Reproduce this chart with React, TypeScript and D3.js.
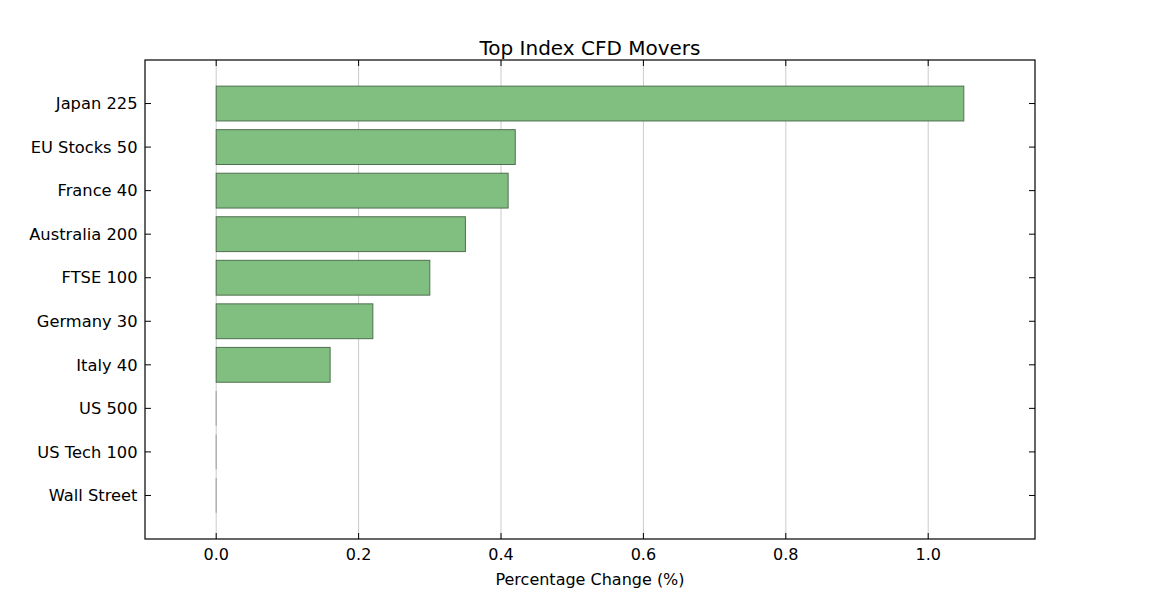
import React from "react";
import * as d3 from "d3";

const categories = ["Japan 225", "EU Stocks 50", "France 40", "Australia 200", "FTSE 100", "Germany 30", "Italy 40", "US 500", "US Tech 100", "Wall Street"];
const values = [1.05, 0.42, 0.41, 0.35, 0.30, 0.22, 0.16, 0, 0, 0];
const xTicks = [0.0, 0.2, 0.4, 0.6, 0.8, 1.0];

export default function App() {
  const W = 1150, H = 600;
  const left = 145, right = 1035, top = 60, bottom = 539;
  const x = d3.scaleLinear().domain([-0.1, 1.15]).range([left, right]);
  const y = d3.scaleLinear().domain([-1, categories.length]).range([top, bottom]);
  const barH = Math.abs(y(0.8) - y(0));
  const font = "DejaVu Sans, sans-serif";
  const tickLen = 6;
  return (
    <svg width={W} height={H} style={{ position: "absolute", left: 0, top: 0 }} fontFamily={font}>
      <rect x={0} y={0} width={W} height={H} fill="#fff" />
      {xTicks.map((t) => (
        <line key={"g" + t} x1={x(t)} x2={x(t)} y1={top} y2={bottom} stroke="#cbcbcb" strokeWidth={1} />
      ))}
      {categories.map((c, i) => {
        const v = values[i];
        const yc = y(i);
        if (v === 0) {
          return (
            <line key={c} x1={x(0)} x2={x(0)} y1={yc - barH / 2} y2={yc + barH / 2} stroke="#a8a8a8" strokeWidth={1.2} />
          );
        }
        return (
          <rect key={c} x={x(0)} y={yc - barH / 2} width={x(v) - x(0)} height={barH}
            fill="#80bf80" stroke="#4f6e4f" strokeWidth={1} />
        );
      })}
      <rect x={left} y={top} width={right - left} height={bottom - top} fill="none" stroke="#000" strokeWidth={1.2} />
      {xTicks.map((t) => (
        <g key={"t" + t}>
          <line x1={x(t)} x2={x(t)} y1={bottom} y2={bottom - tickLen} stroke="#000" />
          <line x1={x(t)} x2={x(t)} y1={top} y2={top + tickLen} stroke="#000" />
          <text x={x(t)} y={bottom + 21} textAnchor="middle" fontSize={16} fill="#000">{t.toFixed(1)}</text>
        </g>
      ))}
      {categories.map((c, i) => (
        <g key={"y" + c}>
          <line x1={left} x2={left + tickLen} y1={y(i)} y2={y(i)} stroke="#000" />
          <line x1={right} x2={right - tickLen} y1={y(i)} y2={y(i)} stroke="#000" />
          <text x={left - 7.5} y={y(i)} dy="0.35em" textAnchor="end" fontSize={16.3} fill="#000">{c}</text>
        </g>
      ))}
      <text x={(left + right) / 2} y={55} textAnchor="middle" fontSize={20} fill="#000">Top Index CFD Movers</text>
      <text x={(left + right) / 2} y={585} textAnchor="middle" fontSize={16} fill="#000">Percentage Change (%)</text>
    </svg>
  );
}
